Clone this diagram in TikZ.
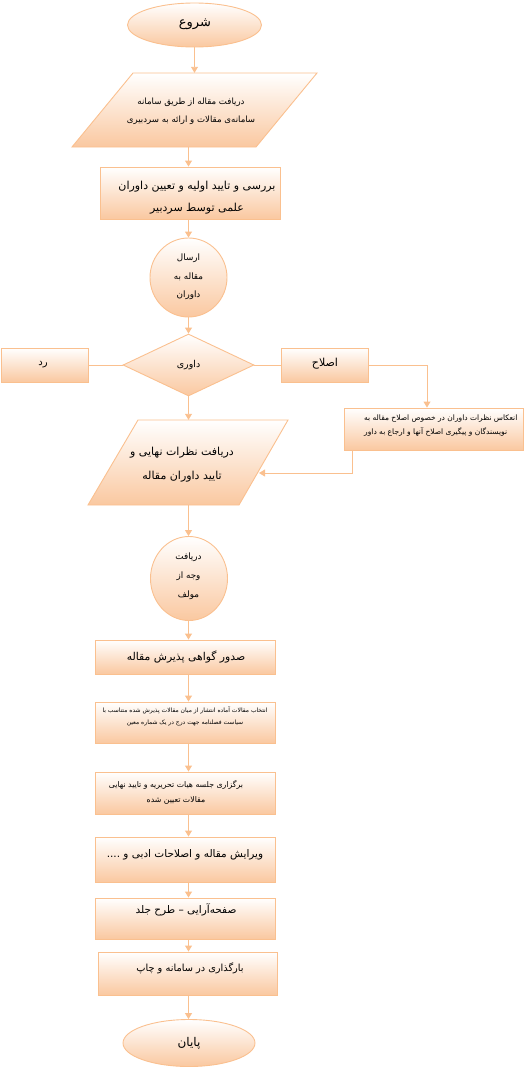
\documentclass[tikz,border=0pt]{standalone}
\usepackage{fontspec}
\newfontfamily\arabicfont[Script=Arabic]{DejaVu Sans}
\TeXXeTstate=1
\usetikzlibrary{shapes.geometric,arrows.meta,calc}
\newcommand{\fa}[1]{\beginR #1\endR}
\definecolor{lineor}{RGB}{250,192,143}
\definecolor{peach}{RGB}{250,200,160}
\begin{document}
\begin{tikzpicture}[x=1pt,y=1pt,
  ln/.style={draw=lineor, line width=0.9pt},
  arr/.style={ln, -{Triangle[width=7pt,length=6pt]}},
  shp/.style={draw=lineor, line width=0.9pt, top color=white, bottom color=peach, inner sep=0pt},
  boxn/.style args={#1/#2}{shp, rectangle, minimum width=#1, minimum height=#2},
  ell/.style args={#1/#2}{shp, ellipse, minimum width=#1, minimum height=#2},
  txt/.style args={#1/#2}{font=\arabicfont\fontsize{#1}{#2}\selectfont, align=center, inner sep=0pt, text=black},
]
\useasboundingbox (0,0) rectangle (525,-1068);
\coordinate (axis) at (188.5,0);

% shapes
\node[ell=134/44] (start) at (194.5,-25) {};
\path[shp] (133,-73) -- (317,-73) -- (256,-147) -- (72,-147) -- cycle;
\node[inner sep=0pt, minimum width=120, minimum height=74] (p1) at (194.5,-110) {};
\node[boxn=180/52] (b2) at (190,-193) {};
\node[ell=77/79] (c1) at (188.5,-277.5) {};
\node[shp, diamond, minimum width=131, minimum height=62] (d) at (188.5,-365) {};
\node[boxn=87/34] (rej) at (45,-365) {};
\node[boxn=87/34] (esl) at (324.5,-365) {};
\node[boxn=179/42] (rb) at (433.5,-429) {};
\path[shp] (138,-420) -- (288,-420) -- (239,-505) -- (88,-505) -- cycle;
\node[inner sep=0pt, minimum width=100, minimum height=85] (p2) at (188.5,-462.5) {};
\coordinate (p2r) at (259,-473);
\node[ell=77/84] (c2) at (189,-578.5) {};
\node[boxn=180/34] (b3) at (185,-657) {};
\node[boxn=180/41] (b4) at (185,-722.5) {};
\node[boxn=180/42] (b5) at (185,-793) {};
\node[boxn=180/45] (b6) at (185,-859.5) {};
\node[boxn=180/41] (b7) at (185,-918.5) {};
\node[boxn=179/43] (b8) at (187.5,-973.5) {};
\node[ell=132/47] (end) at (189,-1043) {};

% texts
\node[txt=13/15] (startt) at (195,-24) {\fa{شروع}};
\node[txt=8.6/18] (p1t) at (191,-111) {\fa{دریافت مقاله از طریق سامانه}\\\fa{سامانه‌ی مقالات و ارائه به سردبیری}};
\node[txt=11/22] (b2t) at (197,-198) {\fa{بررسی و تایید اولیه و تعیین داوران}\\\fa{علمی توسط سردبیر}};
\node[txt=8.8/18.5] (c1t) at (188.5,-277) {\fa{ارسال}\\\fa{مقاله به}\\\fa{داوران}};
\node[txt=9.5/11] (dt) at (188.5,-365) {\fa{داوری}};
\node[txt=10/11] (rejt) at (43,-365) {\fa{رد}};
\node[txt=11/12] (eslt) at (325,-364) {\fa{اصلاح}};
\node[txt=7.5/14, align=left, anchor=west] (rbt) at (364,-426) {\fa{انعکاس نظرات داوران در خصوص اصلاح مقاله به}\\\fa{نویسندگان و پیگیری اصلاح آنها و ارجاع به داور}};
\node[txt=11/24] (p2t) at (182,-465) {\fa{دریافت نظرات نهایی و}\\\fa{تایید داوران مقاله}};
\node[txt=8.8/19] (c2t) at (188.5,-576) {\fa{دریافت}\\\fa{وجه از}\\\fa{مولف}};
\node[txt=10.8/12] (b3t) at (186,-657) {\fa{صدور گواهی پذیرش مقاله}};
\node[txt=6/11.5] (b4t) at (185,-716.5) {\fa{انتخاب مقالات آماده انتشار از میان مقالات پذیرش شده متناسب با}\\\fa{سیاست فصلنامه جهت درج در یک شماره معین}};
\node[txt=7.8/15] (b5t) at (176,-792.5) {\fa{برگزاری جلسه هیات تحریریه و تایید نهایی}\\\fa{مقالات تعیین شده}};
\node[txt=10.5/12] (b6t) at (185,-855) {\fa{ویرایش مقاله و اصلاحات ادبی و ....}};
\node[txt=10.5/12] (b7t) at (186,-910) {\fa{صفحه‌آرایی – طرح جلد}};
\node[txt=9.8/12] (b8t) at (190,-968) {\fa{بارگذاری در سامانه و چاپ}};
\node[txt=12/14] (endt) at (189,-1043) {\fa{پایان}};

% connectors
\draw[arr] (start.south) -- (p1.north);
\draw[arr] (axis |- p1.south) -- (axis |- b2.north);
\draw[arr] (axis |- b2.south) -- (c1.north);
\draw[arr] (c1.south) -- (d.north);
\draw[ln] (d.west) -- (rej.east);
\draw[ln] (d.east) -- (esl.west);
\draw[arr] (esl.east) -| ([xshift=-6.5pt]rb.north);
\draw[arr] ([xshift=9pt]rb.south west) |- (p2r);
\draw[arr] (d.south) -- (p2.north);
\draw[arr] (p2.south) -- (axis |- c2.north);
\draw[arr] (axis |- c2.south) -- (axis |- b3.north);
\draw[arr] (axis |- b3.south) -- (axis |- b4.north);
\draw[arr] (axis |- b4.south) -- (axis |- b5.north);
\draw[arr] (axis |- b5.south) -- (axis |- b6.north);
\draw[arr] (axis |- b6.south) -- (axis |- b7.north);
\draw[arr] (axis |- b7.south) -- (axis |- b8.north);
\draw[arr] (axis |- b8.south) -- (axis |- end.north);
\end{tikzpicture}
\end{document}
